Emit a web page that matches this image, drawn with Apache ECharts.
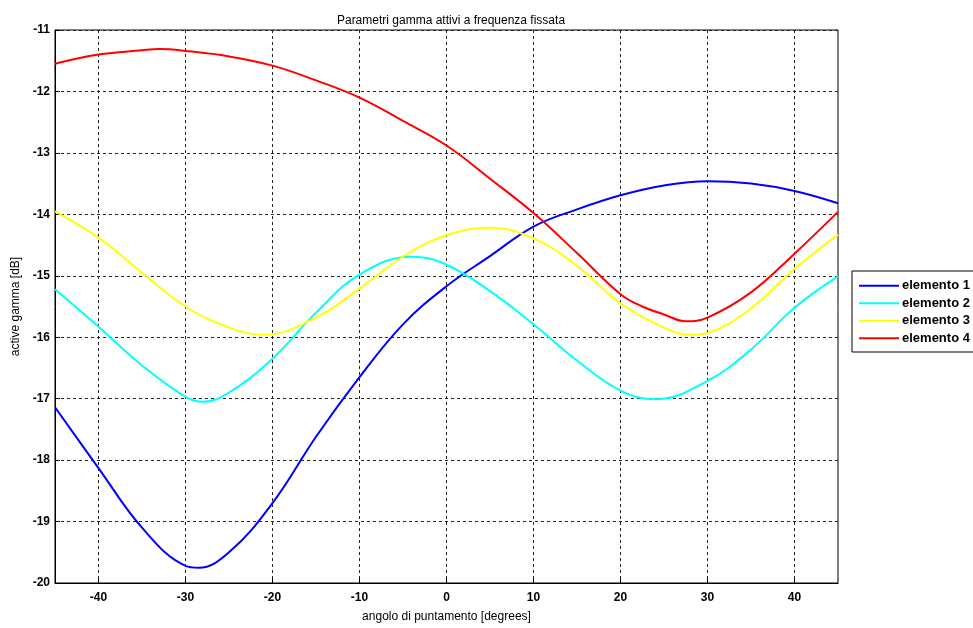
<!DOCTYPE html>
<html>
<head>
<meta charset="utf-8">
<script src="https://cdn.jsdelivr.net/npm/echarts@6/dist/echarts.min.js"></script>
<style>
  html, body { margin: 0; padding: 0; background: #fff; }
  #chart { width: 973px; height: 628px; }
</style>
</head>
<body>
<div id="chart"></div>
<script>
// valori (con i punti di minimo/massimo)
var angoli1 = [-45, -40, -35, -30, -28.5, -25, -20, -15, -10, -5, 0, 5, 10, 15, 20, 25, 30, 35, 40, 45];
var gamma1 = [-17.14, -18.13, -19.1, -19.72, -19.75, -19.5, -18.7, -17.62, -16.65, -15.79, -15.17, -14.68, -14.2, -13.92, -13.69, -13.53, -13.46, -13.5, -13.62, -13.82];

var angoli2 = [-45, -40, -35, -30, -28, -25, -20, -15, -10, -4, 0, 5, 10, 15, 20, 24, 30, 35, 40, 45];
var gamma2 = [-15.22, -15.83, -16.46, -16.97, -17.05, -16.9, -16.35, -15.6, -14.98, -14.69, -14.82, -15.25, -15.79, -16.38, -16.87, -17.01, -16.71, -16.2, -15.52, -15.01];

var angoli3 = [-45, -40, -35, -30, -25, -21, -15, -10, -5, 0, 5, 10, 15, 20, 25, 28, 30, 35, 40, 45];
var gamma3 = [-13.95, -14.38, -14.95, -15.5, -15.84, -15.96, -15.68, -15.21, -14.69, -14.34, -14.22, -14.39, -14.84, -15.45, -15.84, -15.96, -15.93, -15.53, -14.89, -14.33];

var angoli4 = [-45, -40, -35, -33, -30, -25, -20, -15, -10, -5, 0, 5, 10, 15, 20, 22.5, 25, 27.5, 30, 35, 40, 45];
var gamma4 = [-11.55, -11.4, -11.33, -11.31, -11.34, -11.43, -11.58, -11.82, -12.1, -12.48, -12.88, -13.42, -13.98, -14.63, -15.3, -15.5, -15.63, -15.74, -15.68, -15.27, -14.64, -13.96];

var tickX = [-40, -30, -20, -10, 0, 10, 20, 30, 40];

var nomi = ['elemento 1', 'elemento 2', 'elemento 3', 'elemento 4'];
var colori = ['#0000ff', '#00ffff', '#ffff00', '#ff0000'];

function coppie(xs, ys) {
    var out = [];
    for (var i = 0; i < xs.length; i++) {
        out.push([xs[i], ys[i]]);
    }
    return out;
}

var dati = [coppie(angoli1, gamma1), coppie(angoli2, gamma2), coppie(angoli3, gamma3), coppie(angoli4, gamma4)];

var griglia = {
    show: true,
    lineStyle: { color: '#222', type: [3, 3], width: 1 }
};

var chart = echarts.init(document.getElementById('chart'));
var option = {
    animation: false,
    backgroundColor: '#fff',
    textStyle: { fontFamily: 'Liberation Sans, Arial, sans-serif' },
    title: {
        text: 'Parametri gamma attivi a frequenza fissata',
        left: 446,
        textAlign: 'center',
        top: 10,
        textStyle: { fontSize: 12, fontWeight: 'normal', color: '#000' }
    },
    legend: {
        data: nomi,
        orient: 'vertical',
        left: 852,
        top: 271,
        padding: [6, 8, 5, 7],
        icon: 'rect',
        itemWidth: 40,
        itemHeight: 2,
        itemGap: 0,
        borderColor: '#000',
        borderWidth: 1,
        textStyle: { fontSize: 13, fontWeight: 'bold', color: '#000', lineHeight: 17.5, padding: [0, 0, 0, -2] }
    },
    grid: {
        left: 55,
        right: 135,
        top: 30,
        bottom: 41,
        show: true,
        borderColor: '#000',
        borderWidth: 1
    },
    xAxis: {
        type: 'value',
        min: -45,
        max: 45,
        name: 'angolo di puntamento [degrees]',
        nameLocation: 'middle',
        nameGap: 28,
        nameTextStyle: { fontSize: 12, color: '#000' },
        axisLine: { onZero: false, lineStyle: { color: '#000' } },
        axisTick: { inside: true, length: 5, lineStyle: { color: '#000' }, customValues: tickX },
        axisLabel: {
            fontSize: 12, fontWeight: 'bold', color: '#000', margin: 9,
            customValues: tickX
        },
        splitLine: griglia
    },
    yAxis: {
        type: 'value',
        min: -20,
        max: -11,
        interval: 1,
        name: 'active gamma [dB]',
        nameLocation: 'middle',
        nameGap: 32,
        nameTextStyle: { fontSize: 12, color: '#000' },
        axisLine: { show: true, onZero: false, lineStyle: { color: '#000' } },
        axisTick: { show: true, inside: true, length: 5, lineStyle: { color: '#000' } },
        axisLabel: { fontSize: 12, fontWeight: 'bold', color: '#000', margin: 5 },
        splitLine: griglia
    },
    series: nomi.map(function (n, i) {
        return {
            name: n,
            type: 'line',
            data: dati[i],
            smooth: 0.4,
            symbol: 'none',
            lineStyle: { color: colori[i], width: 2 },
            itemStyle: { color: colori[i] }
        };
    })
};
chart.setOption(option);
</script>
</body>
</html>
